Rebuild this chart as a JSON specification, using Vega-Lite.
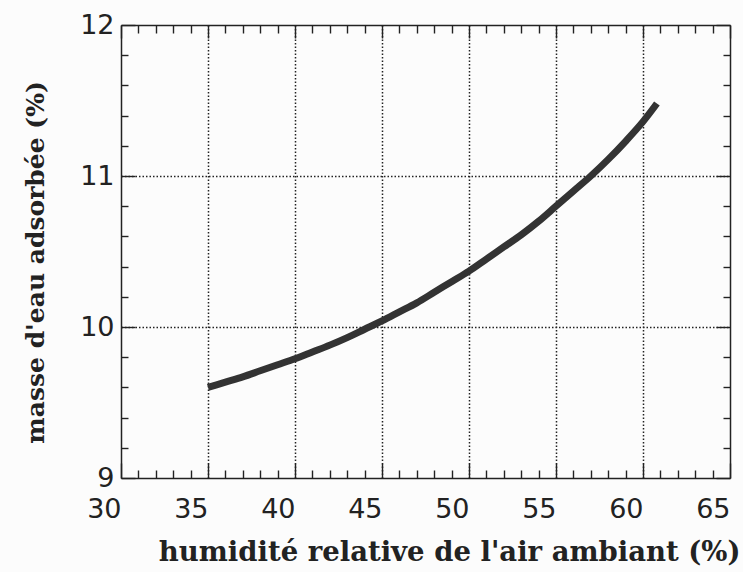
{
  "$schema": "https://vega.github.io/schema/vega-lite/v6.json",
  "width": 609,
  "height": 453,
  "autosize": {"type": "none"},
  "padding": {"left": 121, "top": 25, "right": 13, "bottom": 94},
  "background": "#fcfcfc",
  "data": {"values": [
    {"h": 35, "m": 9.60}, {"h": 36, "m": 9.635}, {"h": 37, "m": 9.67}, {"h": 38, "m": 9.71},
    {"h": 39, "m": 9.75}, {"h": 40, "m": 9.79}, {"h": 41, "m": 9.835}, {"h": 42, "m": 9.88},
    {"h": 43, "m": 9.93}, {"h": 44, "m": 9.985}, {"h": 45, "m": 10.04}, {"h": 46, "m": 10.10},
    {"h": 47, "m": 10.16}, {"h": 48, "m": 10.23}, {"h": 49, "m": 10.30}, {"h": 50, "m": 10.37},
    {"h": 51, "m": 10.45}, {"h": 52, "m": 10.53}, {"h": 53, "m": 10.61}, {"h": 54, "m": 10.70},
    {"h": 55, "m": 10.80}, {"h": 56, "m": 10.90}, {"h": 57, "m": 11.00}, {"h": 58, "m": 11.11},
    {"h": 59, "m": 11.23}, {"h": 60, "m": 11.36}, {"h": 60.8, "m": 11.48}
  ]},
  "config": {
    "view": {"stroke": null},
    "axis": {
      "domainColor": "#222", "domainWidth": 1.5,
      "tickColor": "#222", "tickWidth": 1.4,
      "gridColor": "#222", "gridWidth": 1.5, "gridDash": [1.5, 2],
      "labelFont": "DejaVu Sans", "labelFontSize": 27, "labelColor": "#222",
      "labelOverlap": false, "labelFlush": false, "labelBound": false,
      "titleFont": "DejaVu Serif", "titleFontWeight": "bold", "titleColor": "#222"
    }
  },
  "resolve": {"axis": {"x": "independent", "y": "independent"}},
  "layer": [
    {
      "mark": {"type": "line", "color": "#333", "strokeWidth": 7, "strokeCap": "butt", "interpolate": "monotone"},
      "encoding": {
        "x": {"field": "h", "type": "quantitative",
          "scale": {"domain": [30, 65], "nice": false, "zero": false},
          "axis": {
            "orient": "bottom",
            "values": [30,31,32,33,34,35,36,37,38,39,40,41,42,43,44,45,46,47,48,49,50,51,52,53,54,55,56,57,58,59,60,61,62,63,64,65],
            "labelExpr": "datum.value % 5 === 0 ? format(datum.value, 'd') : ''",
            "tickSize": {"condition": {"test": "datum.value % 5 === 0", "value": -15}, "value": -8},
            "grid": true,
            "gridOpacity": {"condition": {"test": "datum.value % 5 === 0 && datum.value > 30 && datum.value < 65", "value": 1}, "value": 0},
            "labelAlign": "right", "labelBaseline": "top", "labelPadding": 33,
            "title": "humidité relative de l'air ambiant (%)",
            "titleFontSize": 27.5,
            "titleAlign": "right", "titleAnchor": "end", "titleX": 619, "titleY": 82, "titleBaseline": "alphabetic"
          }
        },
        "y": {"field": "m", "type": "quantitative",
          "scale": {"domain": [9, 12], "nice": false, "zero": false},
          "axis": {
            "orient": "left",
            "values": [9,9.2,9.4,9.6,9.8,10,10.2,10.4,10.6,10.8,11,11.2,11.4,11.6,11.8,12],
            "labelExpr": "datum.value % 1 === 0 ? format(datum.value, 'd') : ''",
            "tickSize": {"condition": {"test": "datum.value % 1 === 0", "value": -14}, "value": -7},
            "grid": true,
            "gridOpacity": {"condition": {"test": "datum.value % 1 === 0 && datum.value > 9 && datum.value < 12", "value": 1}, "value": 0},
            "labelAlign": "right", "labelBaseline": "middle", "labelPadding": 21,
            "title": "masse d'eau adsorbée (%)",
            "titleFontSize": 25,
            "titleAngle": -90, "titleAlign": "center", "titleX": -78, "titleY": 237, "titleBaseline": "alphabetic"
          }
        }
      }
    },
    {
      "mark": {"type": "line", "strokeOpacity": 0},
      "encoding": {
        "x": {"field": "h", "type": "quantitative",
          "scale": {"domain": [30, 65], "nice": false, "zero": false},
          "axis": {
            "orient": "top",
            "values": [30,31,32,33,34,35,36,37,38,39,40,41,42,43,44,45,46,47,48,49,50,51,52,53,54,55,56,57,58,59,60,61,62,63,64,65],
            "labels": false, "title": null, "grid": false,
            "tickSize": {"condition": {"test": "datum.value % 5 === 0", "value": -13}, "value": -8}
          }
        },
        "y": {"field": "m", "type": "quantitative",
          "scale": {"domain": [9, 12], "nice": false, "zero": false},
          "axis": {
            "orient": "right",
            "values": [9,9.2,9.4,9.6,9.8,10,10.2,10.4,10.6,10.8,11,11.2,11.4,11.6,11.8,12],
            "labels": false, "title": null, "grid": false,
            "tickSize": {"condition": {"test": "datum.value % 1 === 0", "value": -14}, "value": -7}
          }
        }
      }
    }
  ]
}
